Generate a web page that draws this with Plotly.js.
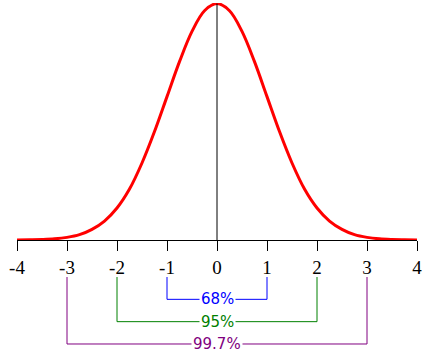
<!DOCTYPE html>
<html>
<head>
<meta charset="utf-8">
<script src="https://cdn.plot.ly/plotly-3.0.1.min.js"></script>
<style>html,body{margin:0;padding:0;background:#fff;}#chart{width:430px;height:360px;}</style>
</head>
<body>
<div id="chart"></div>
<script>
// Curve values
var curveX = [-4,-3.75,-3.5,-3.25,-3,-2.75,-2.5,-2.25,-2,-1.75,-1.5,-1.25,-1,-0.75,-0.5,-0.25,0,0.25,0.5,0.75,1,1.25,1.5,1.75,2,2.25,2.5,2.75,3,3.25,3.5,3.75,4];
var curveY = [0.0001,0.0004,0.0009,0.002,0.0044,0.009,0.018,0.032,0.054,0.086,0.130,0.183,0.242,0.301,0.352,0.387,0.399,0.387,0.352,0.301,0.242,0.183,0.130,0.086,0.054,0.032,0.018,0.009,0.0044,0.002,0.0009,0.0004,0.0001];
var tickVals = [-4,-3,-2,-1,0,1,2,3,4];
var tickText = ["-4","-3","-2","-1","0","1","2","3","4"];
// Brackets: half-width in sigma, label, color
var bracketK = [1, 2, 3];
var bracketLabels = ["68%", "95%", "99.7%"];
var bracketColors = ["#0000ff", "#008000", "#800080"];

var traces = [];
traces.push({x: curveX, y: curveY, mode: 'lines', line: {color: '#ff0000', width: 3, shape: 'spline'}, xaxis: 'x', yaxis: 'y', hoverinfo: 'skip'});
traces.push({x: [0, 0], y: [0, curveY[16]], mode: 'lines', line: {color: '#000', width: 1}, xaxis: 'x', yaxis: 'y', hoverinfo: 'skip'});
var annotations = [];
for (var i = 0; i < bracketK.length; i++) {
  var k = bracketK[i];
  traces.push({x: [-k, -k, k, k], y: [0, i + 1, i + 1, 0], mode: 'lines', line: {color: bracketColors[i], width: 1}, xaxis: 'x2', yaxis: 'y2', hoverinfo: 'skip'});
  annotations.push({x: 0, y: i + 1, xref: 'x2', yref: 'y2', text: bracketLabels[i], showarrow: false, bgcolor: '#ffffff', borderpad: 1,
    font: {family: 'DejaVu Sans', size: 15, color: bracketColors[i]}});
}

var layout = {
  width: 430, height: 360,
  margin: {l: 17, r: 13, t: 3, b: 10},
  paper_bgcolor: '#fff', plot_bgcolor: '#fff',
  showlegend: false,
  xaxis: {range: [-4, 4], anchor: 'y', showgrid: false, zeroline: false, showline: true, linecolor: '#000', linewidth: 1,
    ticks: 'outside', ticklen: 10, tickwidth: 1, tickcolor: '#000', tickvals: tickVals, ticktext: tickText,
    tickfont: {family: 'Liberation Serif', size: 19, color: '#000'}, fixedrange: true},
  yaxis: {domain: [0.317, 1], range: [0, 0.4], visible: false, fixedrange: true},
  xaxis2: {range: [-4, 4], anchor: 'y2', visible: false, matches: 'x'},
  yaxis2: {domain: [0, 0.317], range: [3.269, -1.657], visible: false},
  annotations: annotations
};
Plotly.newPlot('chart', traces, layout, {staticPlot: true, displayModeBar: false});
</script>
</body>
</html>
